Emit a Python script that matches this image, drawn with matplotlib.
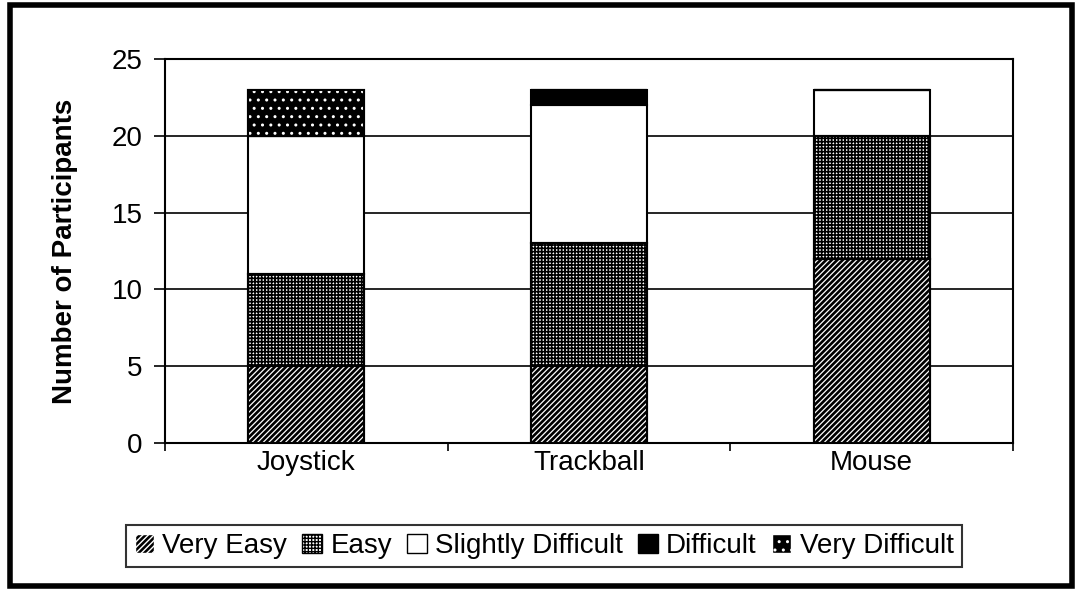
import numpy as np
import matplotlib.pyplot as plt
from matplotlib.patches import Rectangle, Patch

plt.rcParams['font.family'] = ['Liberation Sans', 'DejaVu Sans']

devices = ['Joystick', 'Trackball', 'Mouse']
levels = ['Very Easy', 'Easy', 'Slightly Difficult', 'Difficult', 'Very Difficult']
very_easy = [5, 5, 12]
easy = [6, 8, 8]
slightly_difficult = [9, 9, 3]
difficult = [0, 1, 0]
very_difficult = [3, 0, 0]
yticks = [0, 5, 10, 15, 20, 25]

# face colour, hatch, hatch colour, hatch linewidth for each level
styles = [
    ('black', '//////', 'white', 0.9),
    ('white', '+++++', 'black', 1.2),
    ('white', None, None, 1.0),
    ('black', None, None, 1.0),
    ('black', '..', 'white', 1.0),
]

fig = plt.figure(figsize=(10.8, 5.9), dpi=100)
ax = fig.add_axes([0.1528, 0.249, 0.7852, 0.651])

x = np.arange(len(devices))
width = 0.41
bottom = np.zeros(len(devices))
series = [very_easy, easy, slightly_difficult, difficult, very_difficult]
for vals, (fc, hatch, hc, hlw) in zip(series, styles):
    vals = np.array(vals, dtype=float)
    plt.rcParams['hatch.linewidth'] = hlw
    ax.bar(x, vals, width, bottom=bottom, color=fc, edgecolor='black', linewidth=1.5, zorder=3)
    if hatch:
        ax.bar(x, vals, width, bottom=bottom, fill=False, edgecolor=hc, hatch=hatch, linewidth=0, zorder=4)
        ax.bar(x, vals, width, bottom=bottom, fill=False, edgecolor='black', linewidth=1.5, zorder=5)
    bottom += vals

ax.set_xlim(-0.5, 2.5)
ax.set_ylim(0, 25)
ax.set_yticks(yticks)
ax.yaxis.grid(True, color='black', linewidth=1.2, zorder=0)
ax.set_xticks(x)
ax.set_xticklabels(devices, fontsize=20)
ax.set_xticks([-0.5, 0.5, 1.5, 2.5], minor=True)
ax.tick_params(axis='x', which='major', length=0, pad=5)
ax.tick_params(axis='x', which='minor', length=6, width=1.2, direction='out')
ax.tick_params(axis='y', labelsize=20, length=8, width=1.2, direction='out', pad=8)
for s in ax.spines.values():
    s.set_linewidth(1.5)
ax.set_ylabel('Number of Participants', fontsize=20, fontweight='bold', labelpad=24)

handles = []
for lvl, (fc, hatch, hc, hlw) in zip(levels, styles):
    plt.rcParams['hatch.linewidth'] = hlw
    handles.append(Patch(facecolor=fc, edgecolor=hc if hatch else 'black', hatch=hatch, label=lvl))
leg = fig.legend(handles=handles, loc='center', bbox_to_anchor=(544 / 1080, 1 - 546 / 590), ncol=5,
                 fontsize=20, frameon=True, fancybox=False, edgecolor='black',
                 handlelength=0.7, handleheight=0.7, handletextpad=0.3, columnspacing=0.55,
                 borderpad=0.3, borderaxespad=0)
leg.get_frame().set_linewidth(1.5)

fig.patches.append(Rectangle((0.009, 0.006), 0.984, 0.985, transform=fig.transFigure,
                             fill=False, edgecolor='black', linewidth=4))

fig.savefig('out.png', dpi=100)
